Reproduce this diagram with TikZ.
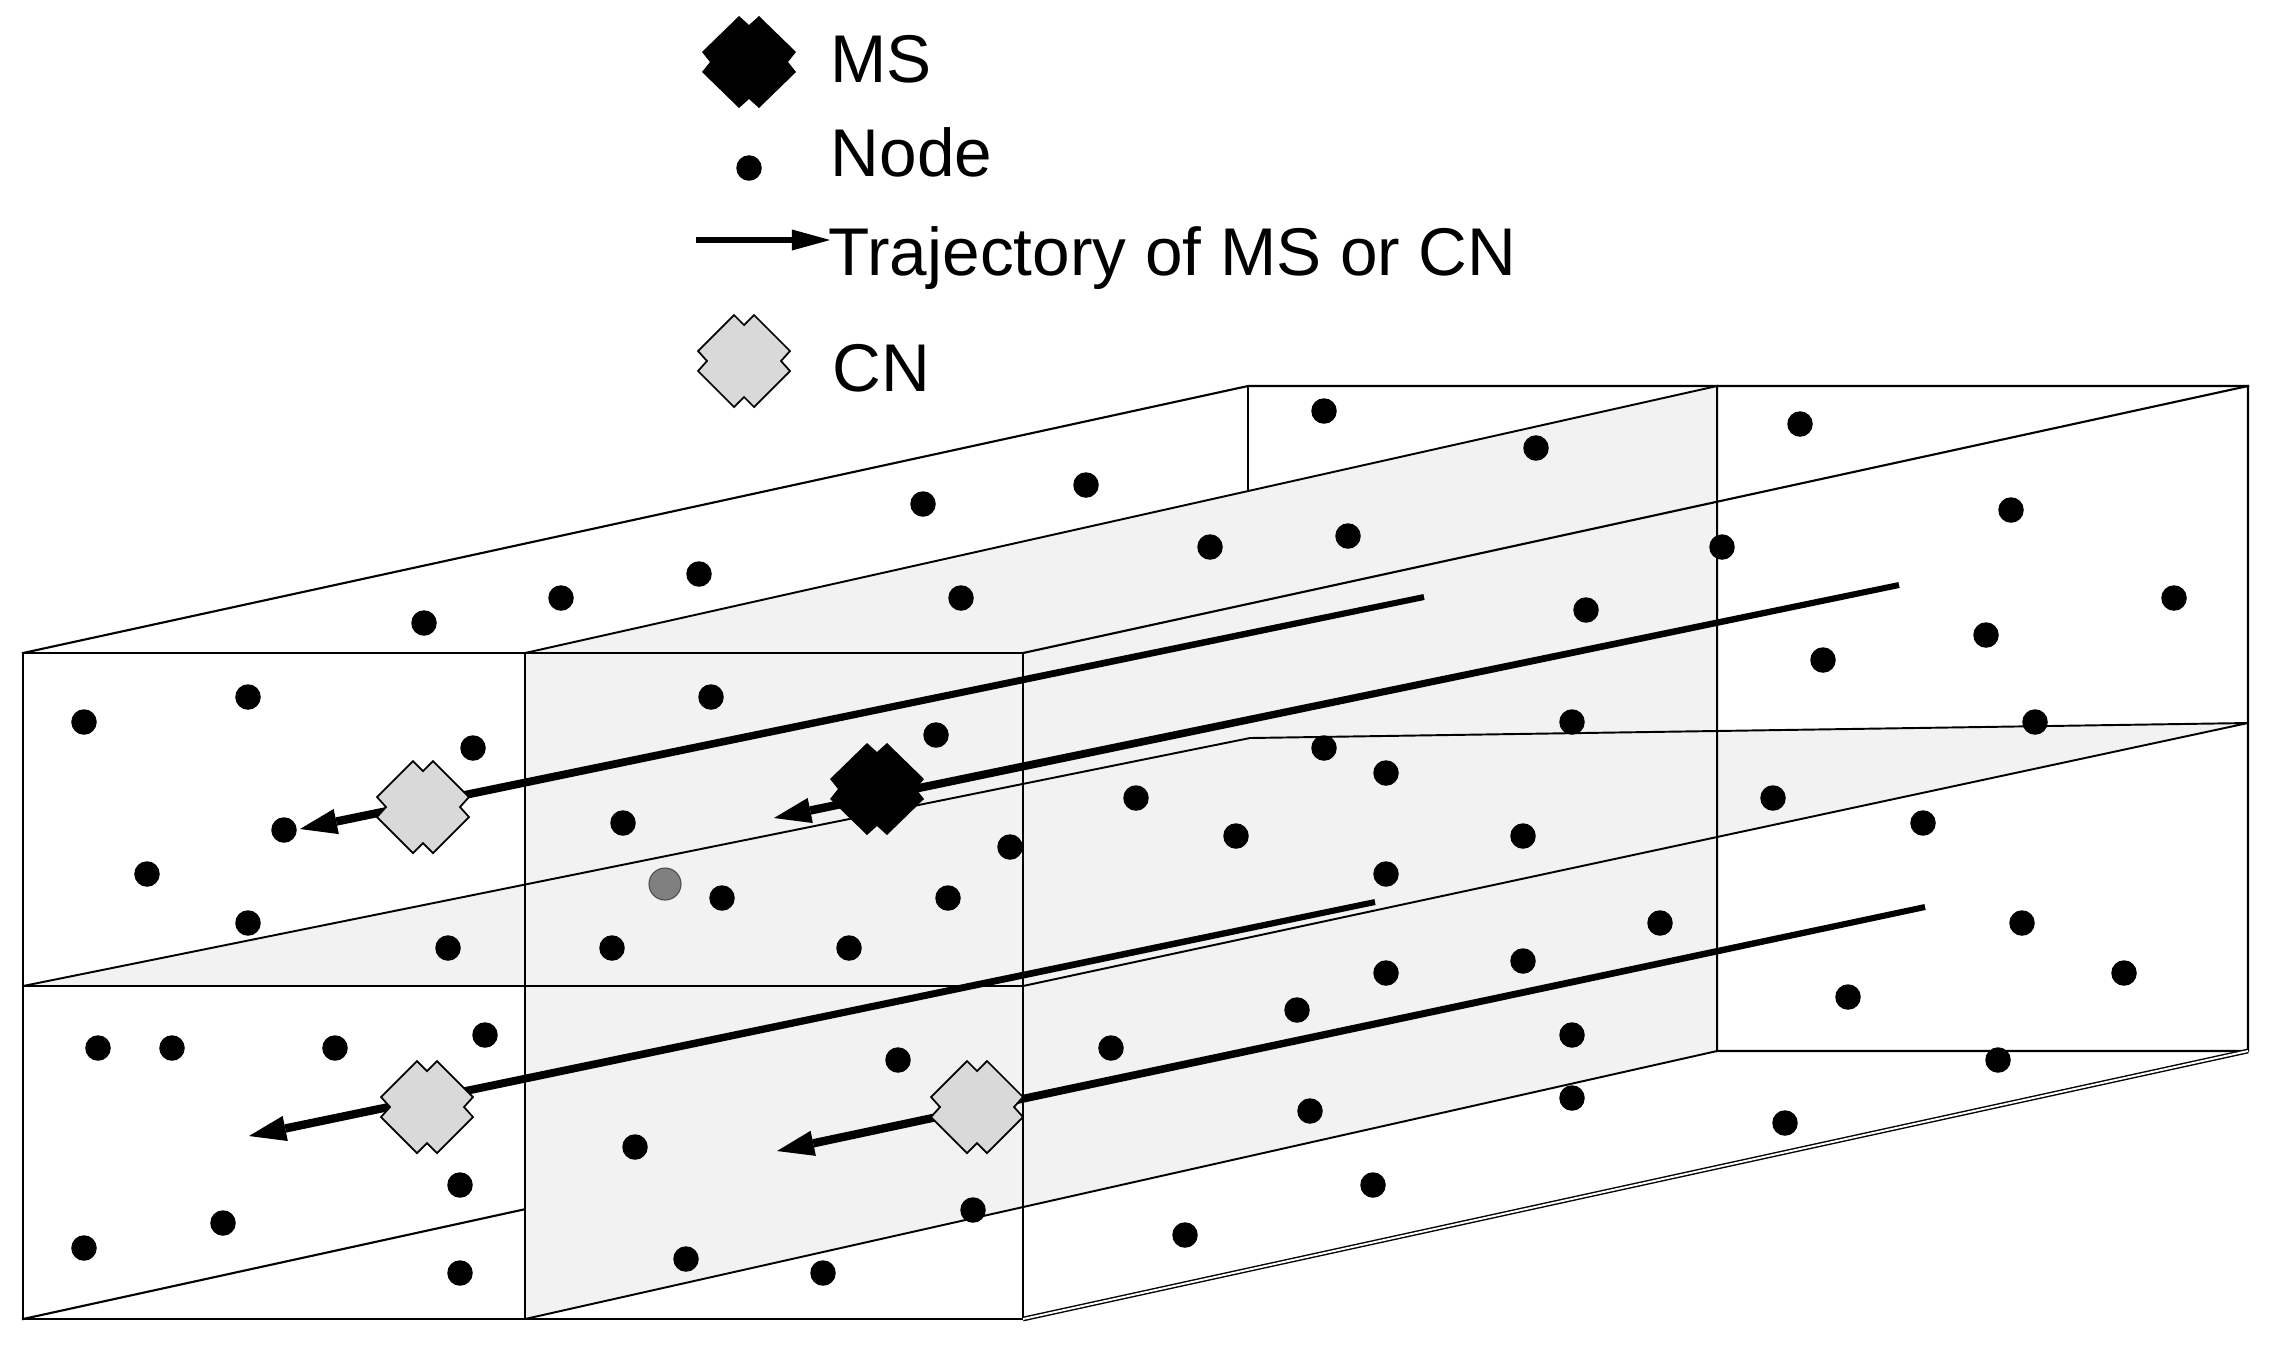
\documentclass[tikz,border=0pt]{standalone}
\usepackage{fontspec}
\setmainfont{Liberation Sans}
\usetikzlibrary{calc}
\definecolor{planegray}{HTML}{F2F2F2}
\definecolor{cngray}{HTML}{D9D9D9}
\definecolor{dotgray}{HTML}{808080}
\newcommand{\trajline}[6]{%
  \coordinate (#2b) at ($(#2)!#5!(#1)$);
  \fill ($(#1)!#3!90:(#2b)$) -- ($(#2b)!#4!-90:(#1)$) -- ($(#2b)!#4!90:(#1)$) -- ($(#1)!#3!-90:(#2b)$) -- cycle;
  \fill (#2) -- ($(#2b)!#6!90:(#1)$) -- ($(#2b)!#6!-90:(#1)$) -- cycle;
}
\tikzset{
  pics/msshape/.style={code={
    \fill[black] (-10,-46) -- (0,-37) -- (10,-46) -- (47,-10) -- (39,0) -- (47,10) -- (10,46) -- (0,37) -- (-10,46) -- (-47,10) -- (-39,0) -- (-47,-10) -- cycle;}},
  pics/cnshape/.style={code={
    \filldraw[fill=cngray, draw=black, line width=0.5pt, line join=miter] (-10,-46) -- (0,-36) -- (10,-46) -- (46,-10) -- (37,0) -- (46,10) -- (10,46) -- (0,36) -- (-10,46) -- (-46,10) -- (-37,0) -- (-46,-10) -- cycle;}},
}
\begin{document}
\begin{tikzpicture}[x=0.01cm,y=-0.01cm,
  boxline/.style={line width=0.6pt, line join=miter, line cap=rect},
  planeline/.style={line width=0.55pt},
  plane/.style={fill=planegray},
  dotnode/.style={circle, fill=black, inner sep=0pt, minimum size=0.255cm},
  graydot/.style={circle, fill=dotgray, draw=black!70, line width=0.3pt, inner sep=0pt, minimum size=0.32cm},
  legtext/.style={anchor=base west, inner sep=0pt, font=\fontsize{19.2pt}{22pt}\selectfont},
]
\useasboundingbox (0,0) rectangle (2283,1357);

% corners of the box
\coordinate (fTL) at (23,653);   \coordinate (fTM) at (525,653);   \coordinate (fTR) at (1023,653);
\coordinate (fML) at (23,986);   \coordinate (fMR) at (1023,986);
\coordinate (fBL) at (23,1319);  \coordinate (fBM) at (525,1319);  \coordinate (fBR) at (1023,1319);
\coordinate (bTL) at (1248,386); \coordinate (bTM) at (1717,386);  \coordinate (bTR) at (2248,386);
\coordinate (bML) at (1250,738); \coordinate (bMR) at (2248,723);
\coordinate (bBL) at (1248,1051);\coordinate (bBM) at (1717,1051); \coordinate (bBR) at (2248,1051);

% hidden edges (covered by the vertical plane)
\draw[boxline] (bTL) -- (bBL) -- (bBM);
\draw[boxline] (fBL) -- (bBL);

% planes
\fill[plane] (fTM) -- (bTM) -- (bBM) -- (fBM) -- cycle;
\fill[plane] (fML) -- (bML) -- (bMR) -- (fMR) -- cycle;

% visible edges
\draw[boxline] (fTL) rectangle (fBR);
\draw[boxline] (fTM) -- (fBM);
\draw[boxline] (fML) -- (fMR);
\draw[boxline] (fTL) -- (bTL) -- (bTR) -- (bBR) -- (bBM);
\draw[boxline] (fTR) -- (bTR);
\draw[planeline] (fTM) -- (bTM) -- (bBM) -- (fBM);
\draw[planeline] (fML) -- (bML) -- (bMR) -- (fMR);
\draw[line width=0.4pt, double distance=0.55pt] (fBR) -- (bBR);

% trajectories
\coordinate (t1s) at (1424,597); \coordinate (t1e) at (300,829);
\coordinate (t2s) at (1899,585); \coordinate (t2e) at (774,818);
\coordinate (t3s) at (1375,902); \coordinate (t3e) at (249,1136);
\coordinate (t4s) at (1925,907); \coordinate (t4e) at (777,1151);
\trajline{t1s}{t1e}{0.03cm}{0.042cm}{0.37cm}{0.128cm}
\trajline{t2s}{t2e}{0.03cm}{0.042cm}{0.37cm}{0.128cm}
\trajline{t3s}{t3e}{0.03cm}{0.042cm}{0.37cm}{0.128cm}
\trajline{t4s}{t4e}{0.03cm}{0.042cm}{0.37cm}{0.128cm}

% nodes (dots)
\foreach \x/\y [count=\i] in {
 1324/411, 1536/448, 1800/424, 1086/485, 923/504, 699/574, 561/598, 424/623,
 1210/547, 1348/536, 961/598, 1722/547, 2011/510, 1586/610, 2174/598, 1986/635,
 1823/660, 711/697, 1572/722, 2035/722, 936/735, 1324/748, 1386/773, 84/722,
 248/697, 473/748, 1136/798, 1773/798, 1923/823, 623/823, 1236/836, 1523/836,
 1010/847, 147/874, 1386/874, 722/898, 948/898, 248/923, 1660/923, 2022/923,
 448/948, 612/948, 849/948, 1386/973, 1523/961, 2124/973, 1848/997, 1297/1010,
 98/1048, 172/1048, 335/1048, 485/1035, 898/1060, 1111/1048, 1572/1035, 1998/1060,
 1310/1111, 1572/1098, 1785/1123, 460/1185, 635/1147, 1373/1185, 223/1223, 973/1210,
 84/1248, 1185/1235, 686/1259, 460/1273, 823/1273, 284/830}
 { \node[dotnode] (n\i) at (\x,\y) {}; }
\node[graydot] (g1) at (665,884) {};

% MS and CNs
\coordinate (ms) at (877,789);
\coordinate (cn1) at (423,807);
\coordinate (cn2) at (427,1107);
\coordinate (cn3) at (977,1107);
\pic at (ms) {msshape};
\pic at (cn1) {cnshape};
\pic at (cn2) {cnshape};
\pic at (cn3) {cnshape};

% legend
\coordinate (lms) at (749,62);
\pic at (lms) {msshape};
\node[legtext] (tms) at (830,82) {MS};
\node[dotnode] (ldot) at (749,168) {};
\node[legtext] (tnode) at (830,176) {Node};
\coordinate (las) at (696,240); \coordinate (lae) at (830,240);
\trajline{las}{lae}{0.03cm}{0.03cm}{0.38cm}{0.105cm}
\node[legtext] (ttraj) at (828,275) {Trajectory of MS or CN};
\coordinate (lcn) at (744,361);
\pic at (lcn) {cnshape};
\node[legtext] (tcn) at (832,391) {CN};
\end{tikzpicture}
\end{document}
